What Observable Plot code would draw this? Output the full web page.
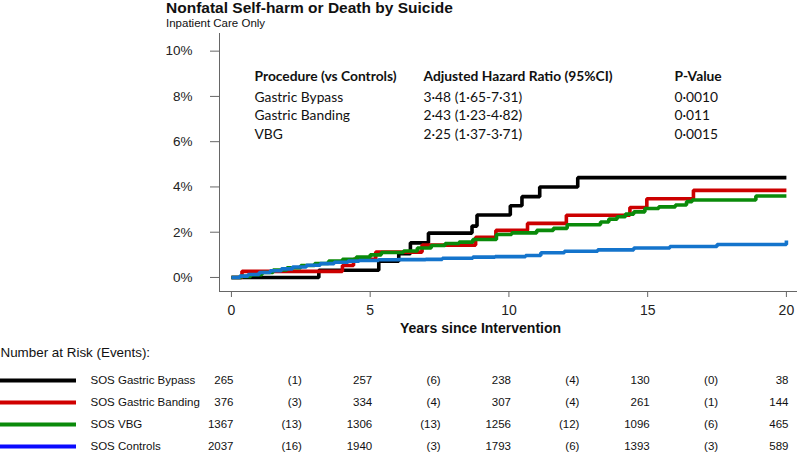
<!DOCTYPE html>
<html><head><meta charset="utf-8">
<script src="https://cdn.jsdelivr.net/npm/d3@7"></script>
<script src="https://cdn.jsdelivr.net/npm/@observablehq/plot@0.6"></script>
<style>
body{margin:0;background:#fff;font-family:"Liberation Sans",Arial,sans-serif;}
#wrap{position:relative;width:800px;height:454px;overflow:hidden;background:#fff;}
#head{position:relative;height:30px;}
.t{position:absolute;left:166px;white-space:nowrap;color:#111;}
svg{display:block;}
</style></head><body>
<div id="wrap">
  <div id="head">
    <div class="t" style="top:-0.5px;font-size:15.5px;font-weight:bold;line-height:16px">Nonfatal Self-harm or Death by Suicide</div>
    <div class="t" style="top:17px;font-size:11.5px;line-height:12px">Inpatient Care Only</div>
  </div>
  <div id="main"></div>
  <div id="risk"></div>
</div>
<script>
// ---- Data ----
const seriesNames = ["SOS Gastric Bypass", "SOS Gastric Banding", "SOS VBG", "SOS Controls"];
const lineColors = ["#000000", "#cc0000", "#0a8a0a", "#1474cc"];
const legendColors = ["#000000", "#d00000", "#0a8a0a", "#0b0bff"];

const bypassYears = [0, 3.15, 5.31, 6.03, 6.45, 7.1, 8.67, 8.85, 10.05, 10.47, 11.11, 12.48, 20];
const bypassPct   = [0, 0.32, 0.72, 1.05, 1.53, 1.96, 2.27, 2.76, 3.17, 3.57, 4.0, 4.41, 4.41];

const bandingYears = [0, 0.38, 4.0, 4.4, 5.2, 6.87, 8.8, 9.53, 10.67, 12.07, 14.36, 14.97, 16.65, 20];
const bandingPct   = [0, 0.27, 0.53, 0.8, 1.12, 1.43, 1.78, 2.08, 2.39, 2.75, 3.09, 3.48, 3.85, 3.85];

const vbgYears = [0, 0.35, 0.7, 1.1, 1.5, 2.0, 2.5, 3.0, 3.5, 4.0, 4.5, 5.0, 5.4, 6.2, 6.7, 7.2, 7.7, 8.2, 8.7, 9.55, 10.1, 11.0, 11.6, 12.1, 13.3, 13.6, 13.9, 14.2, 14.5, 14.9, 15.4, 16.0, 16.4, 16.6, 18.9, 20];
const vbgPct   = [0, 0.05, 0.12, 0.22, 0.33, 0.43, 0.53, 0.62, 0.72, 0.8, 0.9, 1.0, 1.1, 1.17, 1.3, 1.41, 1.5, 1.56, 1.68, 1.9, 1.97, 2.08, 2.17, 2.33, 2.45, 2.58, 2.68, 2.8, 2.9, 3.05, 3.12, 3.2, 3.35, 3.42, 3.6, 3.6];

const controlYears = [0, 0.3, 0.6, 1.0, 1.4, 1.8, 2.2, 2.7, 3.2, 3.7, 4.2, 4.6, 5.3, 6.0, 7.0, 7.6, 8.7, 9.5, 10.6, 11.15, 12.0, 13.2, 14.5, 15.8, 17.5, 19.9, 20];
const controlPct   = [0, 0.06, 0.13, 0.22, 0.3, 0.38, 0.46, 0.54, 0.61, 0.67, 0.72, 0.75, 0.78, 0.79, 0.8, 0.85, 0.9, 0.92, 0.97, 1.09, 1.16, 1.22, 1.3, 1.37, 1.46, 1.46, 1.63];

const xTicks = [0, 5, 10, 15, 20];
const yTicks = [0, 2, 4, 6, 8, 10];

const tableHeaders = ["Procedure (vs Controls)", "Adjusted Hazard Ratio (95%CI)", "P-Value"];
const procedures = ["Gastric Bypass", "Gastric Banding", "VBG"];
const hazardRatios = ["3·48 (1·65-7·31)", "2·43 (1·23-4·82)", "2·25 (1·37-3·71)"];
const pValues = ["0·0010", "0·011", "0·0015"];

const riskTitle = "Number at Risk (Events):";
const riskYears = [0, 5, 10, 15, 20];
const eventYears = [2.5, 7.5, 12.5, 17.5];
const bypassAtRisk = [265, 257, 238, 130, 38];
const bypassEvents = [1, 6, 4, 0];
const bandingAtRisk = [376, 334, 307, 261, 144];
const bandingEvents = [3, 4, 4, 1];
const vbgAtRisk = [1367, 1306, 1256, 1096, 465];
const vbgEvents = [13, 13, 12, 6];
const controlAtRisk = [2037, 1940, 1793, 1393, 589];
const controlEvents = [16, 3, 6, 3];

// ---- Build tables ----
const curveSets = [[bypassYears, bypassPct], [bandingYears, bandingPct], [vbgYears, vbgPct], [controlYears, controlPct]];
const curves = curveSets.map(([ys, ps], i) => ys.map((t, j) => ({series: seriesNames[i], t, p: ps[j], color: lineColors[i]})));

const atRiskSets = [bypassAtRisk, bandingAtRisk, vbgAtRisk, controlAtRisk];
const eventSets = [bypassEvents, bandingEvents, vbgEvents, controlEvents];
const riskRows = atRiskSets.flatMap((arr, i) => arr.map((n, j) => ({group: seriesNames[i], year: riskYears[j], label: String(n)})));
const eventRows = eventSets.flatMap((arr, i) => arr.map((n, j) => ({group: seriesNames[i], year: eventYears[j], label: "(" + n + ")"})));
const legendRows = seriesNames.map((g, i) => ({group: g, color: legendColors[i]}));

const FONT = "Liberation Sans, Arial, sans-serif";
const TFONT = "Lato, 'Open Sans', sans-serif";
const xDomain = [-0.43, 20.4];
const yDomain = [-0.62, 10.78];
const axisColor = "#666";

const colDx = [35, 204, 455];
const bodies = [procedures, hazardRatios, pValues];

const annotationMarks = tableHeaders.flatMap((h, i) => [
  Plot.text([h], {text: d => d, frameAnchor: "top-left", lineAnchor: "middle", dx: colDx[i], dy: 43.5, textAnchor: "start", fontWeight: "bold", fontFamily: TFONT, fontSize: 13.8, fill: "#111"}),
  Plot.text([bodies[i].join("\n")], {text: d => d, frameAnchor: "top-left", lineAnchor: "middle", dx: colDx[i], dy: 81, lineHeight: 18.5 / 13.8, textAnchor: "start", fontFamily: TFONT, fontSize: 13.8, fill: "#111"})
]);

const main = Plot.plot({
  width: 800, height: 311,
  marginLeft: 219, marginRight: 3, marginTop: 3, marginBottom: 50,
  style: {fontFamily: FONT, color: "#222", background: "white"},
  x: {domain: xDomain},
  y: {domain: yDomain},
  color: {type: "identity"},
  marks: [
    Plot.axisX({ticks: xTicks, tickSize: 6, tickPadding: 8, fontSize: 14, stroke: axisColor, label: null}),
    Plot.axisY({ticks: yTicks, tickSize: 9, tickPadding: 18, fontSize: 13.5, stroke: axisColor, tickFormat: d => d + "%", label: null}),
    Plot.ruleX([xDomain[0]], {stroke: axisColor}),
    Plot.ruleY([yDomain[0]], {stroke: axisColor}),
    ...curves.map(c => Plot.line(c, {x: "t", y: "p", stroke: "color", strokeWidth: 3.6, curve: "step-after", strokeLinejoin: "miter", strokeLinecap: "butt"})),
    ...annotationMarks,
    Plot.text(["Years since Intervention"], {text: d => d, frameAnchor: "bottom", lineAnchor: "middle", dx: -28, dy: 37, fontWeight: "bold", fontSize: 14, fill: "#111"})
  ]
});
document.getElementById("main").appendChild(main);

const tableX = [-231 / 27.75, (797 - 231) / 27.75];
const risk = Plot.plot({
  width: 800, height: 113,
  marginLeft: 0, marginRight: 3, marginTop: 38.5, marginBottom: 7.5,
  style: {fontFamily: FONT, color: "#222", background: "white"},
  x: {domain: tableX, axis: null},
  y: {type: "point", domain: seriesNames, padding: 0, axis: null},
  color: {type: "identity"},
  marks: [
    Plot.text([riskTitle], {text: d => d, frameAnchor: "top-left", lineAnchor: "middle", dx: 0, dy: -27.5, textAnchor: "start", fontSize: 13.4, fill: "#111"}),
    Plot.ruleY(legendRows, {y: "group", stroke: "color", strokeWidth: 4, insetRight: 721}),
    Plot.text(legendRows, {y: "group", text: "group", frameAnchor: "left", dx: 90, textAnchor: "start", fontSize: 11.5, fill: "#111"}),
    Plot.text(riskRows, {x: "year", y: "group", text: "label", textAnchor: "end", dx: 2, fontSize: 11.5, fill: "#111"}),
    Plot.text(eventRows, {x: "year", y: "group", text: "label", textAnchor: "end", dx: 1, fontSize: 11.5, fill: "#111"})
  ]
});
document.getElementById("risk").appendChild(risk);
</script>
</body></html>
